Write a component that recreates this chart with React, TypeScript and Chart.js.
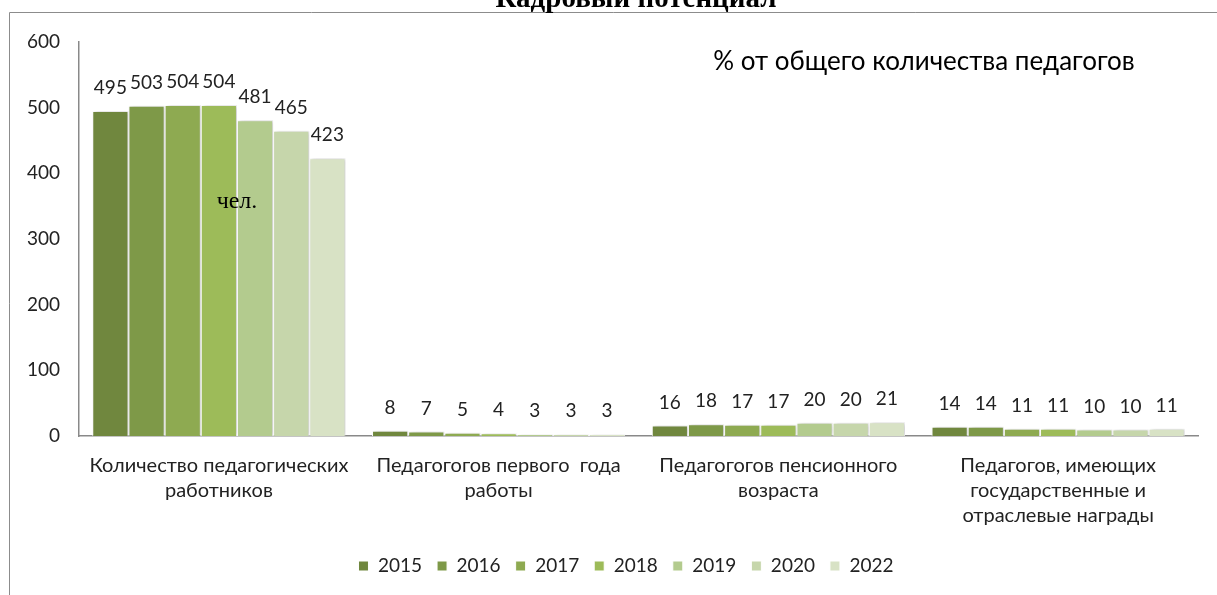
import React, { useEffect, useRef } from "react";
import { Chart, registerables } from "chart.js";

Chart.register(...registerables);

const categories: string[][] = [
  ["Количество педагогических", "работников"],
  ["Педагогогов первого  года", "работы"],
  ["Педагогогов пенсионного", "возраста"],
  ["Педагогов, имеющих", "государственные и", "отраслевые награды"],
];

const years = ["2015", "2016", "2017", "2018", "2019", "2020", "2022"];

const values2015 = [495, 8, 16, 14];
const values2016 = [503, 7, 18, 14];
const values2017 = [504, 5, 17, 11];
const values2018 = [504, 4, 17, 11];
const values2019 = [481, 3, 20, 10];
const values2020 = [465, 3, 20, 10];
const values2022 = [423, 3, 21, 11];

const seriesValues = [values2015, values2016, values2017, values2018, values2019, values2020, values2022];
const seriesColors = ["#70873e", "#7e9948", "#8eaa51", "#9dbb59", "#b3cb8e", "#c6d6ab", "#d8e2c5"];

const yTicks = [0, 100, 200, 300, 400, 500, 600];

const chartTitle = "Кадровый потенциал";
const noteText = "% от общего количества педагогов";
const unitText = "чел.";

const SANS = "Lato, 'Open Sans', sans-serif";
const SERIF = "'Liberation Serif', 'Times New Roman', serif";

const decorPlugin = {
  id: "decor",
  afterLayout(chart: any) {
    const lg = chart.legend;
    if (lg) {
      lg.left += 27;
      lg.right += 27;
    }
  },
  beforeDraw(chart: any) {
    const ctx = chart.ctx;
    ctx.save();
    ctx.strokeStyle = "#8c8c8c";
    ctx.lineWidth = 1;
    ctx.beginPath();
    ctx.moveTo(9.5, chart.height);
    ctx.lineTo(9.5, 12.5);
    ctx.lineTo(chart.width, 12.5);
    ctx.stroke();
    ctx.fillStyle = "#000";
    ctx.font = `bold 29px ${SERIF}`;
    ctx.textAlign = "center";
    ctx.textBaseline = "alphabetic";
    ctx.fillText(chartTitle, 636, 7);
    ctx.restore();
  },
  beforeDatasetsDraw(chart: any) {
    const ctx = chart.ctx;
    ctx.save();
    ctx.shadowColor = "rgba(0,0,0,0.22)";
    ctx.shadowBlur = 4;
    ctx.shadowOffsetX = 2;
    ctx.shadowOffsetY = 0;
  },
  afterDatasetsDraw(chart: any) {
    const ctx = chart.ctx;
    ctx.restore();
    ctx.save();
    ctx.fillStyle = "#222";
    ctx.font = `19px ${SANS}`;
    ctx.textAlign = "center";
    ctx.textBaseline = "middle";
    chart.data.datasets.forEach((ds: any, i: number) => {
      const meta = chart.getDatasetMeta(i);
      meta.data.forEach((el: any, j: number) => {
        ctx.fillText(String(ds.data[j]), el.x, el.y - 23);
      });
    });
    ctx.fillStyle = "#000";
    ctx.font = `26px ${SANS}`;
    ctx.fillText(noteText, 924, 62);
    ctx.font = `24px ${SERIF}`;
    ctx.fillText(unitText, 237, 202);
    ctx.restore();
  },
};

export default function App() {
  const canvasRef = useRef<HTMLCanvasElement | null>(null);

  useEffect(() => {
    if (!canvasRef.current) return;
    const chart = new Chart(canvasRef.current, {
      type: "bar",
      data: {
        labels: categories,
        datasets: years.map((y, i) => ({
          label: y,
          data: seriesValues[i],
          backgroundColor: seriesColors[i],
          borderColor: "#ffffff",
          borderWidth: 1,
          categoryPercentage: 0.905,
          barPercentage: 1.0,
        })),
      },
      options: {
        animation: false,
        responsive: true,
        maintainAspectRatio: false,
        layout: { padding: { top: 42, right: 19, left: 0, bottom: 9.5 } },
        plugins: {
          title: { display: false },
          tooltip: { enabled: false },
          legend: {
            position: "bottom",
            labels: {
              boxWidth: 10,
              boxHeight: 10,
              padding: 15,
              color: "#222",
              font: { size: 19, family: SANS },
            },
          },
        },
        scales: {
          x: {
            grid: { display: false, drawTicks: false },
            border: { color: "#898989", width: 1.5 },
            ticks: {
              color: "#222",
              font: { size: 20, family: SANS, lineHeight: "25px" },
              padding: 17,
              maxRotation: 0,
              autoSkip: false,
            },
            afterFit(scale: any) {
              scale.height = 105.5;
            },
          },
          y: {
            min: 0,
            max: 600,
            afterBuildTicks(scale: any) {
              scale.ticks = yTicks.map((v) => ({ value: v }));
            },
            grid: { display: false, drawTicks: false },
            border: { color: "#898989", width: 1.5 },
            ticks: {
              color: "#222",
              font: { size: 19, family: SANS },
              padding: 19,
            },
            afterFit(scale: any) {
              scale.width = 79;
            },
          },
        },
      },
      plugins: [decorPlugin],
    });
    return () => chart.destroy();
  }, []);

  return (
    <div style={{ position: "fixed", left: 0, top: 0, width: 1217, height: 595, background: "#fff" }}>
      <canvas ref={canvasRef} />
    </div>
  );
}
